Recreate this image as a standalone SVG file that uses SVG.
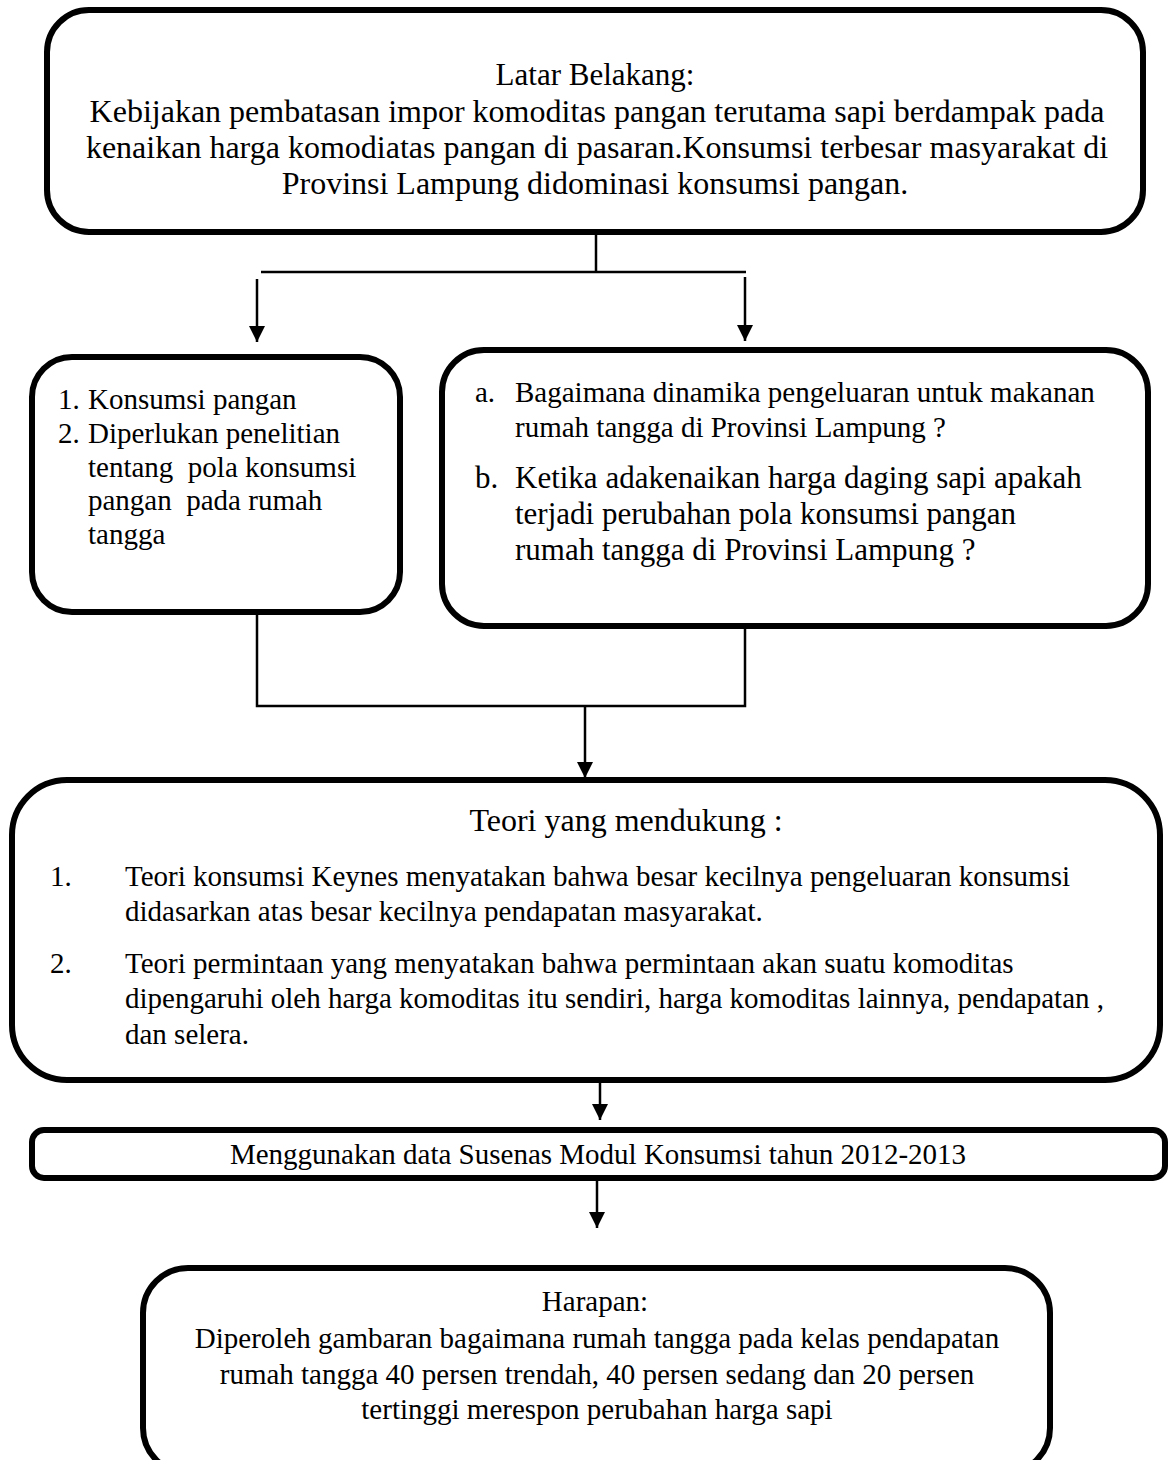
<svg xmlns="http://www.w3.org/2000/svg" width="1168" height="1460" viewBox="0 0 1168 1460">
<style>
.box{fill:#fff;stroke:#000;stroke-width:6}
.t{font-family:"Liberation Serif","Times New Roman",serif;fill:#000}
.c{text-anchor:middle}
.con{fill:none;stroke:#000;stroke-width:2.5}
</style>
<defs>
<marker id="ah" viewBox="0 0 16 18" refX="16" refY="8" markerWidth="16" markerHeight="18" markerUnits="userSpaceOnUse" orient="auto">
<path d="M0,0 L16,8 L0,16 z" fill="#000"/>
</marker>
</defs>
<rect width="1168" height="1460" fill="#fff"/>
<g id="connectors">
<line class="con" x1="596" y1="232" x2="596" y2="272"/>
<line class="con" x1="261" y1="272" x2="746" y2="272"/>
<line class="con" x1="257" y1="279" x2="257" y2="342" marker-end="url(#ah)"/>
<line class="con" x1="745" y1="277" x2="745" y2="341" marker-end="url(#ah)"/>
<polyline class="con" points="257,612 257,706 745,706 745,626"/>
<line class="con" x1="585" y1="706" x2="585" y2="778" marker-end="url(#ah)"/>
<line class="con" x1="600" y1="1080" x2="600" y2="1120" marker-end="url(#ah)"/>
<line class="con" x1="597" y1="1178" x2="597" y2="1228" marker-end="url(#ah)"/>
</g>
<g id="latar">
<rect class="box" x="47" y="10" width="1096" height="222" rx="42"/>
<text class="t c" x="595" y="85" font-size="31">Latar Belakang:</text>
<text class="t c" x="597" y="122" font-size="32">Kebijakan pembatasan impor komoditas pangan terutama sapi berdampak pada</text>
<text class="t c" x="597" y="158" font-size="32">kenaikan harga komodiatas pangan di pasaran.Konsumsi terbesar masyarakat di</text>
<text class="t c" x="595" y="194" font-size="32">Provinsi Lampung didominasi konsumsi pangan.</text>
</g>
<g id="kiri">
<rect class="box" x="32" y="357" width="368" height="255" rx="40"/>
<g class="t" font-size="29">
<text x="58" y="409">1.</text><text x="88" y="409">Konsumsi pangan</text>
<text x="58" y="443">2.</text><text x="88" y="443">Diperlukan penelitian</text>
<text x="88" y="477" xml:space="preserve">tentang  pola konsumsi</text>
<text x="88" y="510" xml:space="preserve">pangan  pada rumah</text>
<text x="88" y="544">tangga</text>
</g>
</g>
<g id="kanan">
<rect class="box" x="442" y="350" width="706" height="276" rx="42"/>
<g class="t" font-size="29">
<text x="475" y="402">a.</text><text x="515" y="402">Bagaimana dinamika pengeluaran untuk makanan</text>
<text x="515" y="437">rumah tangga di Provinsi Lampung ?</text>
</g>
<g class="t" font-size="31">
<text x="475" y="488">b.</text><text x="515" y="488">Ketika adakenaikan harga daging sapi apakah</text>
<text x="515" y="524">terjadi perubahan pola konsumsi pangan</text>
<text x="515" y="560">rumah tangga di Provinsi Lampung ?</text>
</g>
</g>
<g id="teori">
<rect class="box" x="12" y="780" width="1148" height="300" rx="55"/>
<text class="t c" x="626" y="831" font-size="32">Teori yang mendukung :</text>
<g class="t" font-size="29">
<text x="50" y="886">1.</text><text x="125" y="886">Teori konsumsi Keynes menyatakan bahwa besar kecilnya pengeluaran konsumsi</text>
<text x="125" y="921">didasarkan atas besar kecilnya pendapatan masyarakat.</text>
<text x="50" y="973">2.</text><text x="125" y="973">Teori permintaan yang menyatakan bahwa permintaan akan suatu komoditas</text>
<text x="125" y="1008">dipengaruhi oleh harga komoditas itu sendiri, harga komoditas lainnya, pendapatan ,</text>
<text x="125" y="1044">dan selera.</text>
</g>
</g>
<g id="data">
<rect class="box" x="32" y="1130" width="1133" height="48" rx="12"/>
<text class="t c" x="598" y="1164" font-size="29">Menggunakan data Susenas Modul Konsumsi tahun 2012-2013</text>
</g>
<g id="harapan">
<rect class="box" x="143" y="1268" width="907" height="205" rx="45"/>
<g class="t c" font-size="29">
<text x="595" y="1311">Harapan:</text>
<text x="597" y="1348">Diperoleh gambaran bagaimana rumah tangga pada kelas pendapatan</text>
<text x="597" y="1384">rumah tangga 40 persen trendah, 40 persen sedang dan 20 persen</text>
<text x="597" y="1419">tertinggi merespon perubahan harga sapi</text>
</g>
</g>
</svg>
